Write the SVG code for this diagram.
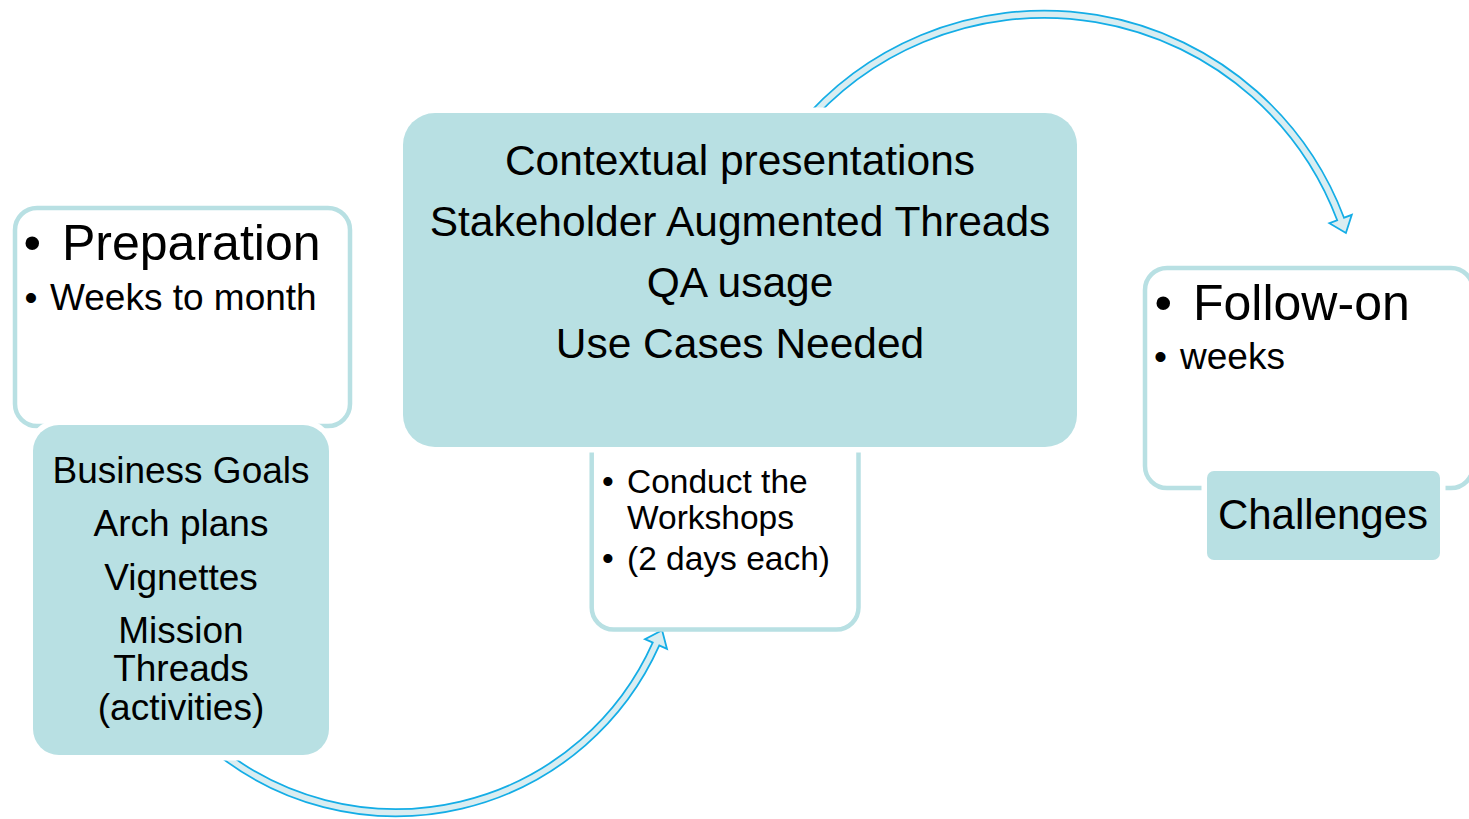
<svg xmlns="http://www.w3.org/2000/svg" width="1469" height="819" viewBox="0 0 1469 819">
<style>
text{font-family:"Liberation Sans",Arial,sans-serif;fill:#000}
.wbox{fill:#fff;stroke:#b8e0e3;stroke-width:4.5}
.tbox{fill:#b8e0e3;stroke:#fff;stroke-width:11;paint-order:stroke fill}
.sh-out{fill:none;stroke:#14ade6;stroke-width:9}
.sh-in{fill:none;stroke:#d9edf1;stroke-width:5.5}
.head{fill:#d9edf1;stroke:#14ade6;stroke-width:1.8;stroke-linejoin:miter}
.c{text-anchor:middle}
</style>
<rect width="1469" height="819" fill="#fff"/>
<g id="connectors">
  <g id="arrow-top">
    <path class="sh-out" d="M 800 129 A 317 317 0 0 1 1340.6 219"/>
    <polygon class="head" points="1351.8,214.8 1345.9,233 1329.4,223.2"/>
    <path class="sh-in" d="M 800 129 A 317 317 0 0 1 1340.6 219 L 1341.3 221"/>
  </g>
  <g id="arrow-bottom">
    <path class="sh-out" d="M 215 748 A 285 285 0 0 0 656 644"/>
    <polygon class="head" points="667,648.9 662.1,630.3 645,639.1"/>
    <path class="sh-in" d="M 215 748 A 285 285 0 0 0 656 644 L 656.8 642.2"/>
  </g>
</g>
<g id="node-preparation">
  <rect class="wbox" x="15" y="208" width="335" height="218" rx="22"/>
  <text x="23.5" y="260" font-size="50">•</text>
  <text x="62" y="260" font-size="50">Preparation</text>
  <text x="24.5" y="310" font-size="37">•</text>
  <text x="50" y="310" font-size="37">Weeks to month</text>
</g>
<g id="node-business">
  <rect class="tbox" x="33" y="425" width="296" height="330" rx="26"/>
  <text class="c" x="181" y="483" font-size="37">Business Goals</text>
  <text class="c" x="181" y="536" font-size="37">Arch plans</text>
  <text class="c" x="181" y="590" font-size="37">Vignettes</text>
  <text class="c" x="181" y="643" font-size="37">Mission</text>
  <text class="c" x="181" y="681" font-size="37">Threads</text>
  <text class="c" x="181" y="720" font-size="37">(activities)</text>
</g>
<g id="node-conduct">
  <rect class="wbox" x="591.7" y="380" width="266.8" height="249.5" rx="22"/>
  <text x="602" y="493" font-size="33.5">•</text>
  <text x="627" y="493" font-size="33.5">Conduct the</text>
  <text x="627" y="529" font-size="33.5">Workshops</text>
  <text x="602" y="570" font-size="33.5">•</text>
  <text x="627" y="570" font-size="33.5">(2 days each)</text>
</g>
<g id="node-contextual">
  <rect class="tbox" x="403" y="113" width="674" height="334" rx="32"/>
  <text class="c" x="740" y="175" font-size="42.5">Contextual presentations</text>
  <text class="c" x="740" y="236" font-size="42.5">Stakeholder Augmented Threads</text>
  <text class="c" x="740" y="297" font-size="42.5">QA usage</text>
  <text class="c" x="740" y="358" font-size="42.5">Use Cases Needed</text>
</g>
<g id="node-followon">
  <rect class="wbox" x="1145" y="268" width="328" height="220" rx="22"/>
  <text x="1154.5" y="320" font-size="50">•</text>
  <text x="1193" y="320" font-size="50">Follow-on</text>
  <text x="1154" y="369" font-size="37">•</text>
  <text x="1180" y="369" font-size="37">weeks</text>
</g>
<g id="node-challenges">
  <rect class="tbox" x="1207" y="471" width="233" height="89" rx="7"/>
  <text class="c" x="1323" y="529" font-size="42">Challenges</text>
</g>
</svg>
